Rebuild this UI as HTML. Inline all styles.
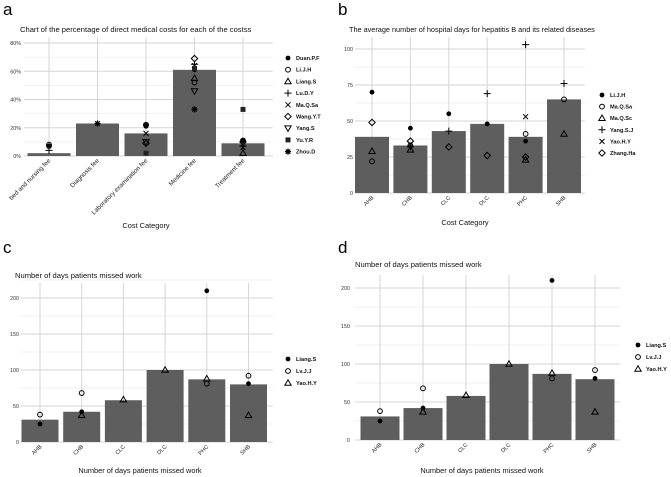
<!DOCTYPE html>
<html><head><meta charset="utf-8">
<style>
body{margin:0;background:#fff;width:671px;height:477px;overflow:hidden;font-family:"Liberation Sans",sans-serif}
svg{display:block}
</style></head>
<body>
<svg id="s" width="671" height="477"></svg>
<script>
// ---- Panel a data ----
const aCats=["bed and nursing fee","Diagnosis fee","Laboratory examination fee","Medicine fee","Treatment fee"];
const aBars=[2,23,16,61,9];
const aSeries=["Duan.P.F","Li.J.H","Liang.S","Lu.D.Y","Ma.Q.Sa","Wang.Y.T","Yang.S","Yu.Y.R","Zhou.D"];
const aDuan=[7,null,21,61,11];
const aLi=[8,null,22,52,11];
const aLiang=[null,null,null,55,2];
const aLu=[4,null,null,65,7];
const aMa=[null,null,16,64,6];
const aWang=[null,null,9,69,10];
const aYang=[null,null,10,46,null];
const aYu=[null,null,2,62,33];
const aZhou=[7,23,22,33,null];
const aTicks=["0%","20%","40%","60%","80%"];
const aTickVals=[0,20,40,60,80];
// ---- Panel b data ----
const bCats=["AHB","CHB","CLC","DLC","PHC","SHB"];
const bBars=[39,33,43,48,39,65];
const bSeries=["Li.J.H","Ma.Q.Sa","Ma.Q.Sc","Yang.S.J","Yao.H.Y","Zhang.Ha"];
const bLi=[70,45,55,48,36,null];
const bMaSa=[22,33,null,null,41,65];
const bMaSc=[29,30,null,null,23,41];
const bYang=[null,32,43,69,103,76];
const bYao=[null,34,null,null,53,null];
const bZhang=[49,36,32,26,25,null];
const bTickVals=[0,25,50,75,100];
// ---- Panel c/d data ----
const cCats=["AHB","CHB","CLC","DLC","PHC","SHB"];
const cBars=[31,42,58,100,87,80];
const cSeries=["Liang.S","Lv.J.J","Yao.H.Y"];
const cLiang=[25,42,null,null,210,81];
const cLv=[38,68,null,null,81,92];
const cYao=[null,37,59,100,88,37];
const cTickVals=[0,50,100,150,200];

const NS="http://www.w3.org/2000/svg";
const svg=document.getElementById('s');
function mk(tag,attrs,parent){const e=document.createElementNS(NS,tag);for(const k in attrs)e.setAttribute(k,attrs[k]);(parent||svg).appendChild(e);return e;}
function txt(x,y,t,size,parent,anchor,extra){const e=mk('text',Object.assign({x:x,y:y,'font-size':size,'text-anchor':anchor||'start',fill:'#111'},extra||{}),parent);e.textContent=t;return e;}

function marker(g,shape,x,y){
  const st={stroke:'#000','stroke-width':1,fill:'none'};
  let e;
  if(shape==='fc'){e=mk('circle',{cx:x,cy:y,r:2.4,fill:'#000'},g);}
  else if(shape==='oc'){e=mk('circle',Object.assign({cx:x,cy:y,r:2.4},st),g);}
  else if(shape==='tri'){e=mk('path',Object.assign({d:`M${x} ${y-3.2}L${x+3.2} ${y+2.3}L${x-3.2} ${y+2.3}Z`},st),g);}
  else if(shape==='dtri'){e=mk('path',Object.assign({d:`M${x} ${y+3.2}L${x+3.2} ${y-2.3}L${x-3.2} ${y-2.3}Z`},st),g);}
  else if(shape==='plus'){e=mk('path',Object.assign({d:`M${x-3.5} ${y}H${x+3.5}M${x} ${y-3.5}V${y+3.5}`},st),g);}
  else if(shape==='x'){e=mk('path',Object.assign({d:`M${x-2.5} ${y-2.5}L${x+2.5} ${y+2.5}M${x+2.5} ${y-2.5}L${x-2.5} ${y+2.5}`},st),g);}
  else if(shape==='dia'){e=mk('path',Object.assign({d:`M${x} ${y-3.2}L${x+3.2} ${y}L${x} ${y+3.2}L${x-3.2} ${y}Z`},st),g);}
  else if(shape==='sq'){e=mk('rect',{x:x-2.5,y:y-2.5,width:5,height:5,fill:'#222'},g);}
  else if(shape==='ast'){e=mk('path',Object.assign({d:`M${x-3} ${y}H${x+3}M${x} ${y-3}V${y+3}M${x-2.2} ${y-2.2}L${x+2.2} ${y+2.2}M${x+2.2} ${y-2.2}L${x-2.2} ${y+2.2}`},st),g);e.setAttribute('stroke-width',1.3);}
  return e;
}

function panel(p){
  const g=mk('g',{});
  
  
  const yS=v=>p.y0+(p.y1-p.y0)*(v-p.vmin)/(p.vmax-p.vmin);
  const xS=i=>p.cx0+i*p.step;
  for(let v=p.vmin;v<=p.gridMax;v+=p.minor){
    const l=mk('line',{x1:p.px0,x2:p.px1,y1:yS(v),y2:yS(v),stroke:'#e6e6e6','stroke-width':0.6},g);
    
  }
  p.tickVals.forEach((v,i)=>{
    const l=mk('line',{x1:p.px0,x2:p.px1,y1:yS(v),y2:yS(v),stroke:'#d6d6d6','stroke-width':1},g);
    
    const t=txt(p.tickX,yS(v)+2,p.tickLabels?p.tickLabels[i]:String(v),5.4,g,'end',{fill:'#333'});
    
  });
  p.cats.forEach((c,i)=>{
    const l=mk('line',{x1:xS(i),x2:xS(i),y1:p.pyTop,y2:yS(p.vmin),stroke:'#d6d6d6','stroke-width':1},g);
    
  });
  p.bars.forEach((v,i)=>{
    const y=yS(v),b=yS(0);
    const r=mk('rect',{x:xS(i)-p.bw/2,y:y,width:p.bw,height:b-y,fill:'#5e5e5e'},g);
    
    
  });
  p.series.forEach((arr,si)=>{
    arr.forEach((v,i)=>{
      if(v===null)return;
      const m=marker(g,p.shapes[si],xS(i),yS(v));
      
      
    });
  });
  p.cats.forEach((c,i)=>{
    const x=xS(i)+2,y=yS(p.vmin)+p.labOff;
    const t=txt(x,y,c,p.xLabSize,g,'end',{transform:`rotate(-45 ${x} ${y})`,fill:'#222'});
    
  });
  const tt=txt(p.titleX,p.titleY,p.title,p.titleSize,g,'start',{fill:'#111'});
  
  const xt=txt(p.xtX,p.xtY,p.xTitle,7.4,g,'middle');
  
  p.names.forEach((n,i)=>{
    const y=p.legY+i*p.legStep;
    const m=marker(g,p.shapes[i],p.legX,y);
    
    const t=txt(p.legX+8,y+2,n,5.6,g,'start',{'font-weight':'bold'});
    
  });
  const pl=txt(p.letX,p.letY,p.letter,17,g,'start',{fill:'#000'});
  
}

const shapes9=['fc','oc','tri','plus','x','dia','dtri','sq','ast'];
panel({name:'panel-a',letter:'a',letX:3,letY:15,cats:aCats,bars:aBars,series:[aDuan,aLi,aLiang,aLu,aMa,aWang,aYang,aYu,aZhou],names:aSeries,shapes:shapes9,
  vmin:0,vmax:80,y0:156,y1:43,gridMax:80,minor:10,tickVals:aTickVals,tickLabels:aTicks,tickX:21,px0:24,px1:273,pyTop:37,
  cx0:49,step:48.5,bw:43,labOff:5,xLabSize:6.3,title:"Chart of the percentage of direct medical costs for each of the costss",titleX:20,titleY:32,titleSize:7.6,
  xTitle:"Cost Category",xtX:146,xtY:228,legX:288,legY:58,legStep:11.7});
panel({name:'panel-b',letter:'b',letX:338,letY:15,cats:bCats,bars:bBars,series:[bLi,bMaSa,bMaSc,bYang,bYao,bZhang],names:bSeries,shapes:['fc','oc','tri','plus','x','dia'],
  vmin:0,vmax:100,y0:193,y1:49,gridMax:105,minor:12.5,tickVals:bTickVals,tickX:353,px0:355,px1:585,pyTop:37,
  cx0:372,step:38.4,bw:34,labOff:5,xLabSize:5.6,title:"The average number of hospital days for hepatitis B and its related diseases",titleX:349,titleY:32,titleSize:7.3,
  xTitle:"Cost Category",xtX:465,xtY:225,legX:602,legY:95,legStep:11.6});
panel({name:'panel-c',letter:'c',letX:3,letY:253,cats:cCats,bars:cBars,series:[cLiang,cLv,cYao],names:cSeries,shapes:['fc','oc','tri'],
  vmin:0,vmax:200,y0:442,y1:298,gridMax:225,minor:25,tickVals:cTickVals,tickX:19,px0:20,px1:273,pyTop:283,
  cx0:40,step:41.7,bw:37,labOff:5,xLabSize:5.6,title:"Number of days patients missed work",titleX:15,titleY:278,titleSize:7.6,
  xTitle:"Number of days patients missed work",xtX:140,xtY:473,legX:288,legY:359,legStep:12});
panel({name:'panel-d',letter:'d',letX:338,letY:253,cats:cCats,bars:cBars,series:[cLiang,cLv,cYao],names:cSeries,shapes:['fc','oc','tri'],
  vmin:0,vmax:200,y0:440,y1:288,gridMax:220,minor:25,tickVals:cTickVals,tickX:350,px0:355,px1:620,pyTop:275,
  cx0:380,step:43,bw:39,labOff:5,xLabSize:5.6,title:"Number of days patients missed work",titleX:355,titleY:267,titleSize:7.6,
  xTitle:"Number of days patients missed work",xtX:482,xtY:473,legX:638,legY:345,legStep:12});
</script>
</body></html>
